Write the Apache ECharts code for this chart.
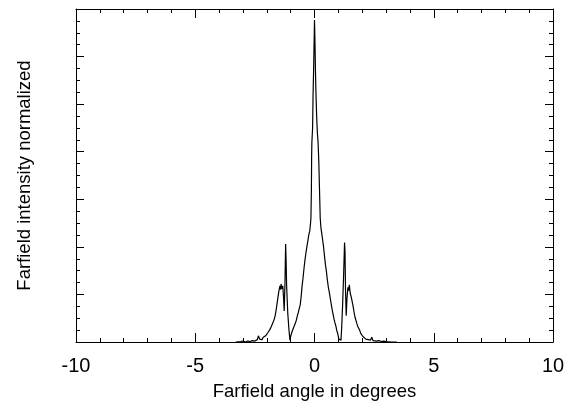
<!DOCTYPE html>
<html>
<head>
<meta charset="utf-8">
<script src="https://cdn.jsdelivr.net/npm/echarts@6/dist/echarts.min.js"></script>
<style>html,body{margin:0;padding:0;background:#fff}#c{width:569px;height:402px}</style>
</head>
<body>
<div id="c"></div>
<script>
// Farfield angle (degrees)
const angles = [
 -3.30,-3.10,-3.00,-2.90,-2.80,-2.70,-2.60,-2.50,-2.40,-2.35,-2.30,-2.25,-2.20,-2.15,-2.10,-2.05,
 -2.00,-1.95,-1.90,-1.85,-1.80,-1.75,-1.70,-1.65,-1.60,-1.55,-1.50,-1.45,-1.42,-1.40,-1.37,-1.33,
 -1.30,-1.27,-1.24,-1.21,-1.19,-1.17,-1.12,-1.07,-1.03,-1.00,-0.97,-0.94,-0.91,-0.88,-0.84,-0.80,
 -0.76,-0.72,-0.68,-0.64,-0.60,-0.56,-0.52,-0.48,-0.44,-0.40,-0.36,-0.32,-0.28,-0.24,-0.20,-0.17,
 -0.15,-0.13,-0.12,-0.11,-0.08,-0.06,-0.04,-0.02,0.00,0.02,0.04,0.06,0.09,0.12,0.15,0.18,
 0.21,0.24,0.27,0.30,0.34,0.38,0.42,0.46,0.50,0.54,0.58,0.62,0.66,0.70,0.74,0.78,
 0.82,0.86,0.90,0.93,0.96,0.99,1.02,1.05,1.08,1.11,1.14,1.18,1.22,1.26,1.28,1.30,
 1.33,1.36,1.40,1.43,1.46,1.50,1.54,1.58,1.62,1.66,1.70,1.74,1.78,1.82,1.86,1.90,
 1.94,1.98,2.02,2.06,2.10,2.15,2.20,2.25,2.30,2.35,2.40,2.45,2.50,2.60,2.70,2.80,
 2.90,3.00,3.20,3.45
];
// Farfield intensity (normalized, arbitrary units)
const intensity = [
 0.00,0.01,0.02,0.00,0.02,0.01,0.03,0.02,0.05,0.13,0.06,0.09,0.05,0.10,0.08,0.13,
 0.15,0.20,0.22,0.28,0.32,0.40,0.46,0.55,0.70,0.88,1.05,1.18,1.10,1.22,1.12,1.18,
 0.95,0.65,1.20,2.06,1.70,1.20,0.60,0.25,0.04,0.12,0.15,0.22,0.20,0.30,0.33,0.40,
 0.46,0.55,0.62,0.70,0.78,0.95,1.18,1.35,1.55,1.72,1.87,2.00,2.12,2.25,2.33,2.48,
 2.60,3.20,3.90,4.20,4.50,5.20,5.65,6.20,6.77,6.30,5.70,5.25,4.75,4.40,4.20,3.80,
 3.20,2.60,2.40,2.30,2.15,2.00,1.80,1.62,1.48,1.30,1.15,1.05,0.92,0.80,0.68,0.58,
 0.48,0.40,0.33,0.25,0.20,0.14,0.06,0.02,0.10,0.04,0.30,0.80,1.40,2.09,1.90,1.10,
 0.55,0.90,1.15,1.08,1.20,1.02,0.95,0.85,0.75,0.62,0.52,0.45,0.38,0.32,0.28,0.24,
 0.18,0.15,0.12,0.10,0.08,0.06,0.08,0.05,0.06,0.04,0.10,0.03,0.05,0.02,0.03,0.01,
 0.02,0.01,0.00,0.00
];
const xTicks = [-10, -5, 0, 5, 10];

const data = angles.map((a, i) => [a, intensity[i]]);
const font = 'Liberation Sans, Arial, sans-serif';
const axisLine = {show: true, onZero: false, lineStyle: {color: '#000', width: 1}};
const chart = echarts.init(document.getElementById('c'), null, {renderer: 'canvas'});
chart.setOption({
  animation: false,
  backgroundColor: '#fff',
  grid: {left: 76, right: 16, top: 9, bottom: 60, containLabel: false, outerBoundsMode: 'none'},
  xAxis: [{
    type: 'value', min: xTicks[0], max: xTicks[xTicks.length - 1], interval: 5,
    position: 'bottom',
    name: 'Farfield angle in degrees', nameLocation: 'middle', nameGap: 40,
    nameTextStyle: {fontFamily: font, fontSize: 18.5, color: '#000'},
    axisLine: axisLine,
    axisTick: {show: true, inside: true, length: 9, lineStyle: {color: '#000'}},
    minorTick: {show: true, splitNumber: 5, length: 4, lineStyle: {color: '#000'}},
    axisLabel: {show: true, margin: 14, fontFamily: font, fontSize: 20, color: '#000'},
    splitLine: {show: false}
  }, {
    type: 'value', min: xTicks[0], max: xTicks[xTicks.length - 1], interval: 5,
    position: 'top',
    axisLine: axisLine,
    axisTick: {show: true, inside: true, length: 9, lineStyle: {color: '#000'}},
    minorTick: {show: true, splitNumber: 5, length: 4, lineStyle: {color: '#000'}},
    axisLabel: {show: false},
    splitLine: {show: false}
  }],
  yAxis: [{
    type: 'value', min: 0, max: 7, interval: 1,
    position: 'left',
    name: 'Farfield intensity normalized', nameLocation: 'middle', nameGap: 42,
    nameTextStyle: {fontFamily: font, fontSize: 18.5, color: '#000'},
    axisLine: axisLine,
    axisTick: {show: true, inside: true, length: 8, lineStyle: {color: '#000'}},
    minorTick: {show: true, splitNumber: 4, length: 4, lineStyle: {color: '#000'}},
    axisLabel: {show: false},
    splitLine: {show: false}
  }, {
    type: 'value', min: 0, max: 7, interval: 1,
    position: 'right',
    axisLine: axisLine,
    axisTick: {show: true, inside: true, length: 8, lineStyle: {color: '#000'}},
    minorTick: {show: true, splitNumber: 4, length: 4, lineStyle: {color: '#000'}},
    axisLabel: {show: false},
    splitLine: {show: false}
  }],
  series: [{
    type: 'line', data: data, xAxisIndex: 0, yAxisIndex: 0,
    showSymbol: false, smooth: false,
    lineStyle: {color: '#000', width: 1.2}
  }]
});
</script>
</body>
</html>
